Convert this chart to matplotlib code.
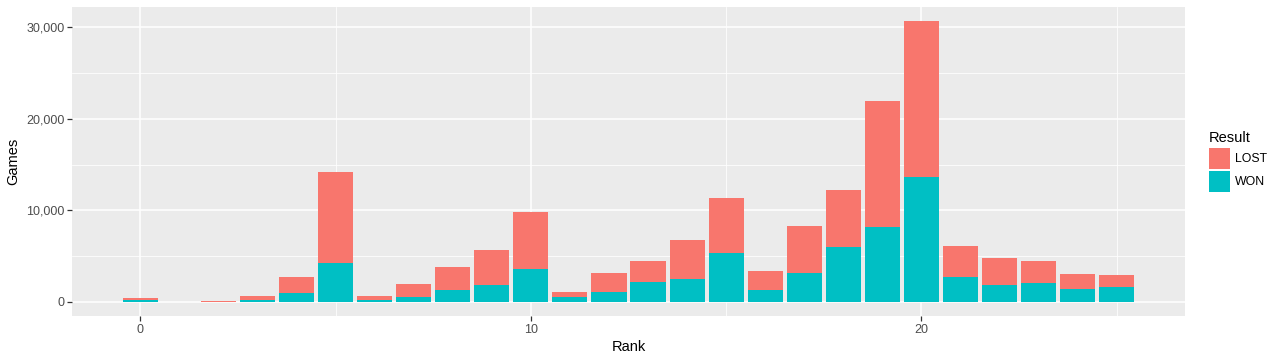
import matplotlib
matplotlib.use("Agg")
import matplotlib.pyplot as plt
from matplotlib.patches import Rectangle
from matplotlib.ticker import FuncFormatter, MultipleLocator

plt.rcParams['font.family'] = ['Liberation Sans', 'DejaVu Sans']

ranks = list(range(0, 26))
won = [180, 0, 10, 220, 950, 4250, 250, 550, 1350, 1880, 3600, 560, 1080, 2150, 2500,
       5330, 1300, 3150, 6020, 8200, 13670, 2700, 1830, 2120, 1400, 1610]
total = [470, 0, 130, 680, 2740, 14180, 660, 1970, 3830, 5700, 9800, 1070, 3130, 4450, 6740,
         11400, 3350, 8260, 12200, 22000, 30680, 6060, 4840, 4420, 3100, 2890]
lost = [t - w for t, w in zip(total, won)]
results = ["LOST", "WON"]
colors = {"LOST": "#F8766D", "WON": "#00BFC4"}

fig = plt.figure(figsize=(12.8, 3.6), dpi=100)
ax = fig.add_axes([72/1280, 1 - 316/360, (1185-72)/1280, (316-7)/360])
ax.set_facecolor("#EBEBEB")

ax.bar(ranks, won, width=0.9, color=colors["WON"], zorder=3)
ax.bar(ranks, lost, bottom=won, width=0.9, color=colors["LOST"], zorder=3)

ymax = max(total)
ax.set_xlim(-0.45 - 0.05 * 25.9, 25.45 + 0.05 * 25.9)
ax.set_ylim(-0.05 * ymax, ymax * 1.05)

ax.xaxis.set_major_locator(MultipleLocator(10))
ax.xaxis.set_minor_locator(MultipleLocator(5))
ax.yaxis.set_major_locator(MultipleLocator(10000))
ax.yaxis.set_minor_locator(MultipleLocator(5000))
ax.yaxis.set_major_formatter(FuncFormatter(lambda v, p: f"{int(v):,}"))

ax.grid(which="major", color="white", linewidth=1.1, zorder=0)
ax.grid(which="minor", color="white", linewidth=0.55, zorder=0)
ax.set_axisbelow(True)
for s in ax.spines.values():
    s.set_visible(False)

ax.tick_params(which="major", length=3.5, width=0.9, color="#333333",
               labelsize=9, labelcolor="#4D4D4D", pad=2)
ax.tick_params(which="minor", length=0)

ax.set_xlabel("Rank", fontsize=10.5, color="black", labelpad=3)
ax.set_ylabel("Games", fontsize=10.5, color="black", labelpad=4)

# Legend
fig.text(1209/1280, 1 - 138/360, "Result", fontsize=10.5, va="center", ha="left")
key_tops = [148, 171]
for r, top in zip(results, key_tops):
    fig.patches.append(Rectangle((1209/1280, 1 - (top + 21)/360), 21/1280, 21/360,
                                 transform=fig.transFigure, facecolor=colors[r],
                                 edgecolor="none"))
    fig.text(1235/1280, 1 - (top + 11)/360, r, fontsize=8.8, va="center", ha="left")

fig.savefig("out.png", dpi=100)
